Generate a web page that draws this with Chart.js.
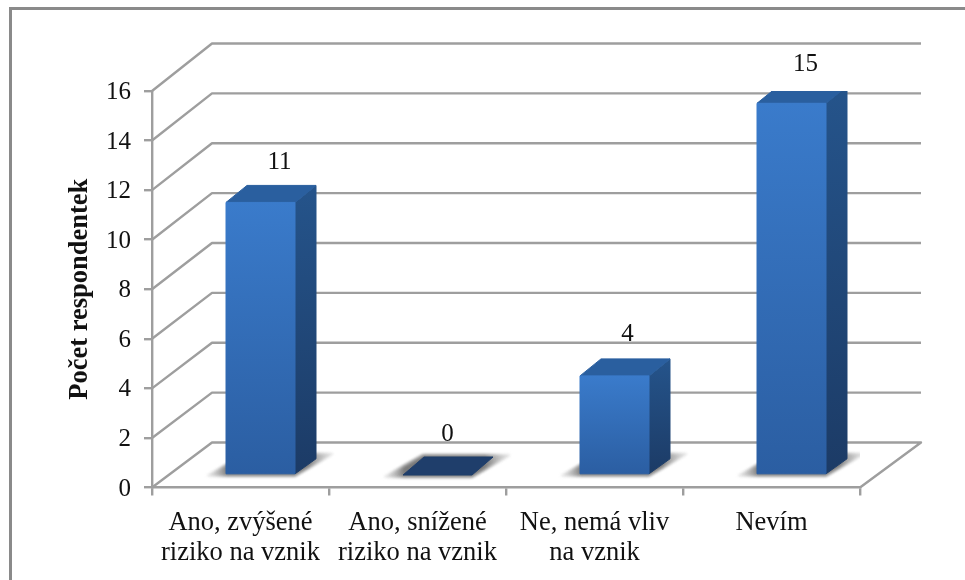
<!DOCTYPE html>
<html><head><meta charset="utf-8">
<style>html,body{margin:0;padding:0;background:#fff}#w{position:absolute;left:0;top:0;width:965px;height:580px}</style>
<script src="https://cdn.jsdelivr.net/npm/chart.js@4/dist/chart.umd.js"></script>
</head><body><div id="w"><canvas id="c" width="965" height="580"></canvas></div>
<script>
const categories = [["Ano, zvýšené","riziko na vznik"],["Ano, snížené","riziko na vznik"],["Ne, nemá vliv","na vznik"],["Nevím"]];
const respondentCounts = [11, 0, 4, 15];
const yTickValues = [0,2,4,6,8,10,12,14,16];
const axisTitle = "Počet respondentek";
const FONT = '"Liberation Serif"';
const GREY = '#9e9e9e';
const wall = {dx:60, dy:-45, stretch:399/396.5};
const bar = {dx:20, dy:-12.5, sx:21, sy:-17, bottomSy:-15};
const labelNudgeX = [19, 10, 13, 14];
const labelNudgeY = [-40, -41, -41, -39];

function face(ctx, pts, fill){
  ctx.beginPath();
  pts.forEach((p,i)=> i?ctx.lineTo(p[0],p[1]):ctx.moveTo(p[0],p[1]));
  ctx.closePath();
  ctx.fillStyle = fill; ctx.fill();
  ctx.lineJoin='round'; ctx.lineWidth=1; ctx.strokeStyle=fill; ctx.stroke();
}
class Bar3DElement extends Chart.BarElement {
  draw(ctx){
    const L=this.x-this.width/2+bar.dx, R=this.x+this.width/2+bar.dx;
    const B=this.base+bar.dy, T=this.y+bar.dy;
    const sx=bar.sx, sy=bar.sy;
    ctx.save();
    ctx.save();
    ctx.filter='blur(1.5px)';
    const sg=ctx.createLinearGradient(L-19,0,R+38,0);
    sg.addColorStop(0,'rgba(170,170,170,.2)');sg.addColorStop(.16,'rgba(115,115,115,.95)');
    sg.addColorStop(.8,'rgba(115,115,115,.95)');sg.addColorStop(1,'rgba(170,170,170,.25)');
    face(ctx,[[L-19,B+2],[R,B+2],[R+38,B-20],[L+20,B-20]],sg);
    ctx.restore();
    if(T>=B-0.5){
      face(ctx,[[L,B],[R,B],[R+sx,B-18],[L+sx,B-18]],'#1f3e6b');
    } else {
      const fg=ctx.createLinearGradient(0,T,0,B);
      fg.addColorStop(0,'#3a7bcb');fg.addColorStop(1,'#2b5ea2');
      const rg=ctx.createLinearGradient(0,T+sy,0,B);
      rg.addColorStop(0,'#25548b');rg.addColorStop(1,'#1c3b66');
      face(ctx,[[R,T],[R+sx,T+sy],[R+sx,B+bar.bottomSy],[R,B]],rg);
      face(ctx,[[L,T],[L+sx,T+sy],[R+sx,T+sy],[R,T]],'#2a5f9f');
      face(ctx,[[L,T],[R,T],[R,B],[L,B]],fg);
    }
    ctx.restore();
  }
}
Bar3DElement.id='bar3d';
Bar3DElement.defaults=Chart.BarElement.defaults;
Bar3DElement.defaultRoutes=Chart.BarElement.defaultRoutes;
class Bar3DController extends Chart.BarController {}
Bar3DController.id='bar3d';
Bar3DController.defaults=Object.assign({},Chart.BarController.defaults,{dataElementType:'bar3d'});
Bar3DController.overrides=Chart.BarController.overrides;
Chart.register(Bar3DElement,Bar3DController);

const walls={id:'walls',
  beforeDatasetsDraw(chart){
    const {ctx,scales:{x,y}}=chart;
    const y0=y.getPixelForValue(0);
    ctx.save();ctx.strokeStyle=GREY;ctx.lineWidth=2.4;ctx.lineJoin='round';
    yTickValues.forEach(v=>{
      const py=y.getPixelForValue(v);
      const by=y0+wall.dy-(y0-py)*wall.stretch;
      ctx.beginPath();ctx.moveTo(x.left,py);ctx.lineTo(x.left+wall.dx,by);ctx.lineTo(x.right+wall.dx+1,by);
      if(v===0)ctx.lineTo(x.right,y0);
      ctx.stroke();
    });
    ctx.restore();
  },
  afterDraw(chart){
    const {ctx}=chart;
    ctx.save();
    ctx.fillStyle='#8a8a8a';ctx.fillRect(9,7,956,3);ctx.fillRect(9,7,3,573);
    ctx.fillStyle='#111';ctx.font='25px '+FONT;ctx.textAlign='center';ctx.textBaseline='middle';
    chart.getDatasetMeta(0).data.forEach((el,i)=>{
      ctx.fillText(String(respondentCounts[i]),el.x+bar.dx+labelNudgeX[i],el.y+bar.dy+labelNudgeY[i]);
    });
    ctx.restore();
  }
};
new Chart(document.getElementById('c'),{
  type:'bar3d',
  data:{labels:categories,datasets:[{data:respondentCounts,backgroundColor:'#3a7bcb',barPercentage:69/177,categoryPercentage:1}]},
  plugins:[walls],
  options:{
    responsive:false,animation:false,
    layout:{padding:{left:0,top:91,right:105,bottom:0}},
    plugins:{legend:{display:false},title:{display:false},tooltip:{enabled:false}},
    scales:{
      x:{type:'category',offset:true,
        grid:{color:GREY,lineWidth:2.4,drawOnChartArea:false,tickLength:8,offset:true},
        border:{color:GREY,width:2.4},
        ticks:{color:'#111',font:{family:FONT,size:26.5,lineHeight:1.13},padding:13,maxRotation:0,autoSkip:false},
        afterFit(s){s.height=92.5;}
      },
      y:{type:'linear',min:0,max:16,
        grid:{color:GREY,lineWidth:2.4,drawOnChartArea:false,tickLength:8},
        border:{color:GREY,width:2.4},
        ticks:{color:'#111',font:{family:FONT,size:25},padding:13,stepSize:2,labelOffset:1.5},
        title:{display:true,text:axisTitle,color:'#111',font:{family:FONT,size:26.5,weight:'bold'},padding:{top:64,bottom:0}},
        afterFit(s){s.width=152;}
      }
    }
  }
});
</script></body></html>
